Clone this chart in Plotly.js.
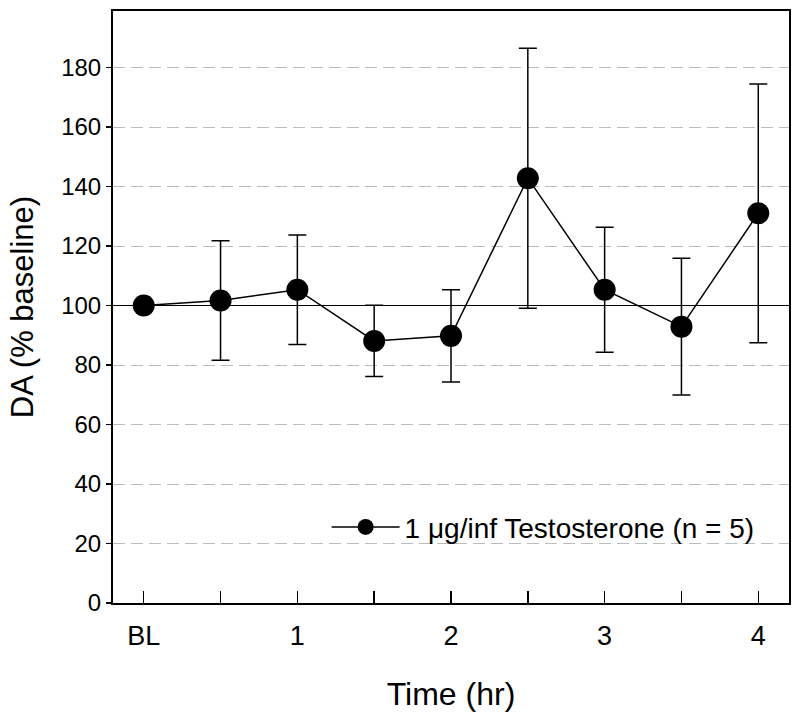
<!DOCTYPE html>
<html>
<head>
<meta charset="utf-8">
<script src="https://cdn.plot.ly/plotly-3.0.1.min.js"></script>
<style>html,body{margin:0;padding:0;background:#fff;}#chart{width:800px;height:720px;}</style>
</head>
<body>
<div id="chart"></div>
<script>
const timeHours = [0, 0.5, 1, 1.5, 2, 2.5, 3, 3.5, 4];
const daPercent = [100, 101.7, 105.3, 88.1, 89.8, 142.8, 105.3, 92.9, 131.0];
const semError = [0, 20.1, 18.4, 12.0, 15.5, 43.7, 21.0, 23.0, 43.5];
const xTickVals = [0, 0.5, 1, 1.5, 2, 2.5, 3, 3.5, 4];
const xTickText = ['BL', '', '1', '', '2', '', '3', '', '4'];
const yTickVals = [0, 20, 40, 60, 80, 100, 120, 140, 160, 180];
const baselineValue = 100;
const seriesName = '1 \u03BCg/inf Testosterone (n = 5)';

const FONT = '"Liberation Sans", Arial, Helvetica, sans-serif';

const trace = {
  x: timeHours,
  y: daPercent,
  type: 'scatter',
  mode: 'lines+markers',
  name: seriesName,
  line: {color: '#000', width: 1.5},
  marker: {color: '#000', size: 22},
  error_y: {type: 'data', array: semError, visible: true, color: '#000', thickness: 1.5, width: 9}
};

const layout = {
  width: 800, height: 720,
  margin: {l: 113, r: 11, t: 11, b: 117},
  paper_bgcolor: '#fff', plot_bgcolor: '#fff',
  font: {family: FONT, color: '#000'},
  showlegend: true,
  legend: {x: 0.316, y: 0.128, xanchor: 'left', yanchor: 'middle', font: {size: 28, family: FONT, color: '#000'}, bgcolor: 'rgba(0,0,0,0)', itemwidth: 68},
  xaxis: {
    range: [-0.2, 4.2],
    tickvals: xTickVals, ticktext: xTickText,
    ticks: 'inside', ticklen: 12, tickwidth: 1.5, tickcolor: '#000',
    showline: true, linecolor: '#000', linewidth: 2, mirror: true,
    showgrid: false, zeroline: false,
    tickfont: {size: 27, family: FONT},
    ticklabelstandoff: 8,
    title: {text: 'Time (hr)', font: {size: 32, family: FONT}, standoff: 32}
  },
  yaxis: {
    range: [0, 199],
    tickvals: yTickVals,
    ticks: 'outside', ticklen: 5, tickwidth: 1.5, tickcolor: '#000',
    showline: true, linecolor: '#000', linewidth: 2, mirror: true,
    showgrid: true, gridcolor: '#bcbcbc', gridwidth: 1, griddash: '12px,6px',
    zeroline: false,
    tickfont: {size: 24, family: FONT},
    title: {text: 'DA (% baseline)', font: {size: 31, family: FONT}, standoff: 18}
  },
  shapes: [{type: 'line', xref: 'paper', x0: 0, x1: 1, yref: 'y', y0: baselineValue, y1: baselineValue, line: {color: '#000', width: 1}, layer: 'above'}]
};

Plotly.newPlot('chart', [trace], layout, {staticPlot: true, displayModeBar: false});
</script>
</body>
</html>
